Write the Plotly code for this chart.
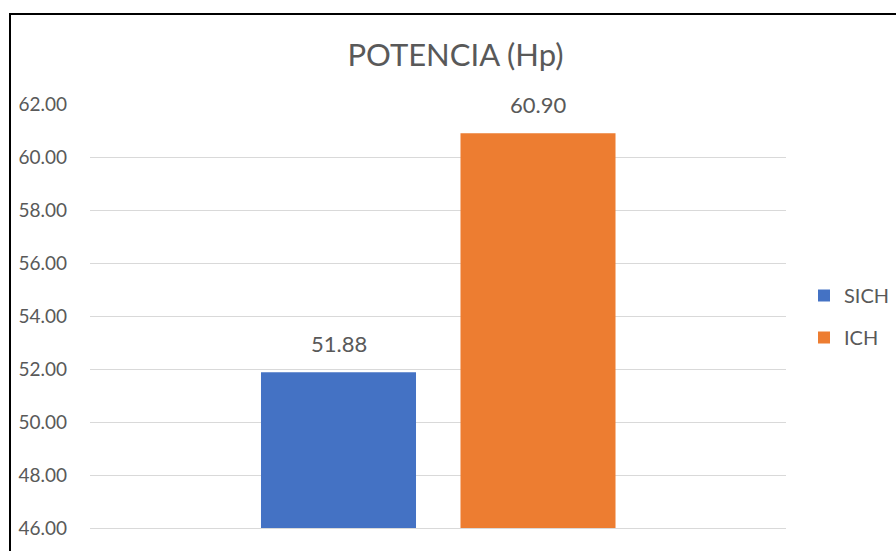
import plotly.graph_objects as go

# Series data
series_names = ["SICH", "ICH"]
series_values = [51.88, 60.90]
series_colors = ["#4472C4", "#ED7D31"]
y_ticks = [46, 48, 50, 52, 54, 56, 58, 60, 62]

W, H = 896, 551
ML, MR, MT, MB = 90, 110, 104, 21
plot_w = W - ML - MR
plot_h = H - MT - MB

FONT = "Lato"
TXT = "#595959"

fig = go.Figure()
for i, (name, val, col) in enumerate(zip(series_names, series_values, series_colors)):
    fig.add_trace(go.Bar(
        x=[name], y=[val], name=name,
        marker=dict(color=col, line=dict(width=0)),
        width=0.777,
        legendgroup=name,
    ))
    fig.add_annotation(
        x=name, y=val, xref="x", yref="y",
        text=f"{val:.2f}", showarrow=False,
        yanchor="bottom", yshift=13,
        font=dict(family=FONT, size=22, color=TXT),
    )

# outer frame of the chart area
fx0 = (10 - ML) / plot_w
fx1 = (W + 20 - ML) / plot_w
fy1 = 1 + (MT - 13.5) / plot_h
fy0 = -(MB + 20) / plot_h
fig.add_shape(type="rect", xref="paper", yref="paper",
              x0=fx0, x1=fx1, y0=fy0, y1=fy1,
              line=dict(color="#000000", width=2), layer="above")

fig.update_layout(
    width=W, height=H,
    margin=dict(l=ML, r=MR, t=MT, b=MB),
    paper_bgcolor="white", plot_bgcolor="white",
    barmode="overlay",
    title=dict(text="POTENCIA (Hp)", x=455.5 / W, xanchor="center",
               y=1 - 55 / H, yanchor="middle",
               font=dict(family=FONT, size=31, color=TXT)),
    showlegend=True,
    legend=dict(xref="container", yref="container",
                x=804 / W, xanchor="left", y=1 - 316.5 / H, yanchor="middle",
                font=dict(family=FONT, size=20, color=TXT),
                traceorder="grouped", tracegroupgap=13,
                itemwidth=30, bgcolor="rgba(0,0,0,0)"),
    xaxis=dict(range=[-(338.5 - ML) / 199.5, 1 + (786 - 538) / 199.5],
               showticklabels=False, showgrid=False, zeroline=False,
               showline=True, linecolor="#D9D9D9", linewidth=1, ticks=""),
    yaxis=dict(range=[46, 62], tickvals=y_ticks, tickformat=".2f",
               showgrid=True, gridcolor="#D9D9D9", gridwidth=1,
               zeroline=False, showline=False, ticks="",
               ticklabelstandoff=22,
               tickfont=dict(family=FONT, size=19, color=TXT)),
)

fig.write_html("out.html")
